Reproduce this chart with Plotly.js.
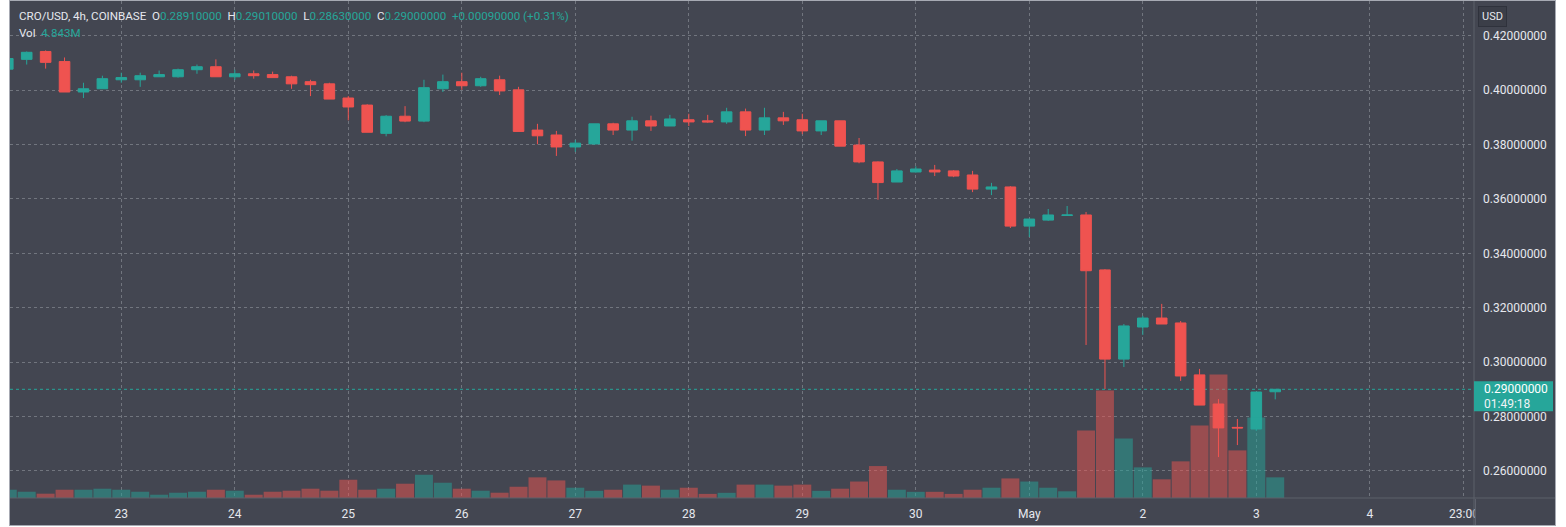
<!DOCTYPE html>
<html>
<head>
<meta charset="utf-8">
<script src="https://cdn.plot.ly/plotly-3.0.1.min.js"></script>
<style>
  html, body { margin: 0; padding: 0; background: #ffffff; width: 1566px; height: 527px; overflow: hidden; }
  #frame { position: absolute; left: 9px; top: 0px; width: 1545px; height: 524px; border: 1px solid #a7aab3; background: #434651; overflow: hidden; }
  #chart { position: absolute; left: 0; top: 0; width: 1545px; height: 524px; }
  #clip { position: absolute; left: 1465px; top: 498px; width: 80px; height: 26px; background: #434651; border-left: 1px solid #5d606b; }
</style>
</head>
<body>
<div id="frame"><div id="chart"></div><div id="clip"></div></div>
<script>
// ---- data (4h candles, CRO/USD, Coinbase) ----
const time = [
  '2022-04-22 00:00','2022-04-22 04:00','2022-04-22 08:00','2022-04-22 12:00','2022-04-22 16:00','2022-04-22 20:00',
  '2022-04-23 00:00','2022-04-23 04:00','2022-04-23 08:00','2022-04-23 12:00','2022-04-23 16:00','2022-04-23 20:00',
  '2022-04-24 00:00','2022-04-24 04:00','2022-04-24 08:00','2022-04-24 12:00','2022-04-24 16:00','2022-04-24 20:00',
  '2022-04-25 00:00','2022-04-25 04:00','2022-04-25 08:00','2022-04-25 12:00','2022-04-25 16:00','2022-04-25 20:00',
  '2022-04-26 00:00','2022-04-26 04:00','2022-04-26 08:00','2022-04-26 12:00','2022-04-26 16:00','2022-04-26 20:00',
  '2022-04-27 00:00','2022-04-27 04:00','2022-04-27 08:00','2022-04-27 12:00','2022-04-27 16:00','2022-04-27 20:00',
  '2022-04-28 00:00','2022-04-28 04:00','2022-04-28 08:00','2022-04-28 12:00','2022-04-28 16:00','2022-04-28 20:00',
  '2022-04-29 00:00','2022-04-29 04:00','2022-04-29 08:00','2022-04-29 12:00','2022-04-29 16:00','2022-04-29 20:00',
  '2022-04-30 00:00','2022-04-30 04:00','2022-04-30 08:00','2022-04-30 12:00','2022-04-30 16:00','2022-04-30 20:00',
  '2022-05-01 00:00','2022-05-01 04:00','2022-05-01 08:00','2022-05-01 12:00','2022-05-01 16:00','2022-05-01 20:00',
  '2022-05-02 00:00','2022-05-02 04:00','2022-05-02 08:00','2022-05-02 12:00','2022-05-02 16:00','2022-05-02 20:00',
  '2022-05-03 00:00','2022-05-03 04:00'
];
const open = [
  0.4077,0.4113,0.4142,0.4105,0.3993,0.4005, 0.4038,0.4038,0.4049,0.4049,0.4075,0.4086,
  0.4049,0.4060,0.4057,0.4049,0.4031,0.4023, 0.3971,0.3945,0.3841,0.3904,0.3886,0.4005,
  0.4031,0.4016,0.4038,0.4001,0.3853,0.3835, 0.3791,0.3802,0.3876,0.3853,0.3887,0.3868,
  0.3891,0.3887,0.3883,0.3920,0.3853,0.3898, 0.3891,0.3850,0.3887,0.3798,0.3736,0.3662,
  0.3699,0.3706,0.3703,0.3688,0.3636,0.3644, 0.3500,0.3522,0.3539,0.3541,0.3339,0.3011,
  0.3129,0.3162,0.3144,0.2953,0.2846,0.2760, 0.2754,0.2891
];
const high = [
  0.4125,0.4142,0.4146,0.4120,0.4027,0.4053, 0.4064,0.4064,0.4072,0.4079,0.4094,0.4113,
  0.4075,0.4072,0.4068,0.4053,0.4038,0.4027, 0.3978,0.3948,0.3908,0.3941,0.4038,0.4057,
  0.4064,0.4049,0.4053,0.4012,0.3876,0.3850, 0.3817,0.3876,0.3880,0.3902,0.3906,0.3909,
  0.3913,0.3909,0.3935,0.3932,0.3935,0.3920, 0.3913,0.3887,0.3887,0.3824,0.3738,0.3710,
  0.3720,0.3725,0.3706,0.3703,0.3659,0.3647, 0.3526,0.3563,0.3574,0.3552,0.3342,0.3140,
  0.3170,0.3214,0.3151,0.2975,0.2864,0.2791, 0.2890,0.2901
];
const low = [
  0.4065,0.4094,0.4079,0.3993,0.3971,0.4005, 0.4027,0.4012,0.4049,0.4046,0.4060,0.4049,
  0.4038,0.4042,0.4046,0.4005,0.3978,0.3967, 0.3889,0.3845,0.3830,0.3882,0.3882,0.3993,
  0.4001,0.4012,0.3982,0.3848,0.3801,0.3758, 0.3773,0.3799,0.3835,0.3814,0.3850,0.3868,
  0.3868,0.3880,0.3876,0.3831,0.3835,0.3872, 0.3838,0.3835,0.3794,0.3731,0.3597,0.3662,
  0.3697,0.3684,0.3680,0.3625,0.3614,0.3493, 0.3460,0.3519,0.3539,0.3063,0.2901,0.2982,
  0.3100,0.3140,0.2931,0.2842,0.2651,0.2695, 0.2747,0.2863
];
const close = [
  0.4116,0.4139,0.4102,0.3993,0.4005,0.4042, 0.4046,0.4053,0.4057,0.4075,0.4086,0.4049,
  0.4060,0.4053,0.4046,0.4023,0.4020,0.3967, 0.3938,0.3845,0.3904,0.3886,0.4009,0.4031,
  0.4016,0.4042,0.3997,0.3848,0.3832,0.3791, 0.3805,0.3876,0.3853,0.3887,0.3868,0.3894,
  0.3883,0.3883,0.3920,0.3853,0.3898,0.3887, 0.3850,0.3887,0.3794,0.3736,0.3660,0.3703,
  0.3710,0.3699,0.3684,0.3636,0.3644,0.3500, 0.3526,0.3541,0.3541,0.3336,0.3011,0.3133,
  0.3162,0.3140,0.2949,0.2842,0.2758,0.2758, 0.2890,0.2900
];
// volume in millions
const volume = [
  1.94,1.47,1.01,1.94,1.94,2.18, 1.94,1.47,0.77,1.24,1.47,1.94,
  1.71,0.77,1.47,1.71,2.18,1.71, 4.28,1.94,2.18,3.35,5.45,3.58,
  2.18,1.71,1.24,2.64,4.84,4.12, 2.41,1.68,1.94,3.14,2.90,1.94,
  2.41,0.96,1.22,3.14,3.14,2.90, 3.14,1.68,2.18,3.86,7.49,1.94,
  1.45,1.45,0.96,1.94,2.41,4.59, 3.86,2.41,1.57,15.84,25.20,13.97,
  7.18,4.38,8.59,17.01,28.95,11.16, 18.88,4.843
];
const priceTicks = [0.26,0.28,0.30,0.32,0.34,0.36,0.38,0.40,0.42];
const dateTicks = ['2022-04-22','2022-04-23','2022-04-24','2022-04-25','2022-04-26','2022-04-27','2022-04-28',
                   '2022-04-29','2022-04-30','2022-05-01','2022-05-02','2022-05-03','2022-05-04','2022-05-04 19:55'];
const dateTickText = ['22','23','24','25','26','27','28','29','30','May','2','3','4','23:00'];
const symbolTitle = 'CRO/USD, 4h, COINBASE';
const countdown = '01:49:18';

// ---- styling ----
const UP = '#26a69a', DOWN = '#ef5350';
const UP_VOL = 'rgba(38,166,154,0.5)', DOWN_VOL = 'rgba(239,83,80,0.5)';
const TXT = '#e6e8ee';
const FONT = 'Roboto, "Noto Sans", "DejaVu Sans", sans-serif';

const n = close.length;
const last = n - 1;
const volColors = close.map((c, i) => c >= open[i] ? UP_VOL : DOWN_VOL);
const lastColor = close[last] >= open[last] ? UP : DOWN;
const chg = close[last] - open[last];
const pct = chg / open[last] * 100;
const fmt = v => v.toFixed(8);
const val = s => '<span style="color:' + lastColor + '">' + s + '</span>';
const sp = '\u00a0\u00a0';
const header = symbolTitle + sp + 'O' + val(fmt(open[last])) + sp + 'H' + val(fmt(high[last])) + sp +
  'L' + val(fmt(low[last])) + sp + 'C' + val(fmt(close[last])) + sp +
  val((chg >= 0 ? '+' : '') + fmt(chg) + ' (' + (pct >= 0 ? '+' : '') + pct.toFixed(2) + '%)');
const volText = 'Vol' + '\u00a0\u00a0' + val(volume[last].toFixed(3) + 'M');

const volTrace = {
  type: 'bar', x: time, y: volume, yaxis: 'y2', xaxis: 'x',
  marker: { color: volColors, line: { width: 0 } },
  hoverinfo: 'skip', showlegend: false
};
const candleTrace = {
  type: 'candlestick', x: time, open: open, high: high, low: low, close: close,
  xaxis: 'x', yaxis: 'y',
  increasing: { line: { color: UP, width: 1 }, fillcolor: UP },
  decreasing: { line: { color: DOWN, width: 1 }, fillcolor: DOWN },
  whiskerwidth: 0, hoverinfo: 'skip', showlegend: false
};

const W = 1545, H = 524, PW = 1464, PH = 497;
const yRange = [0.25004, 0.43276];
const pxToPrice = (yRange[1] - yRange[0]) / PH;
const layout = {
  width: W, height: H,
  margin: { l: 0, r: W - PW, t: 0, b: H - PH, pad: 0 },
  paper_bgcolor: '#434651', plot_bgcolor: '#434651',
  font: { family: FONT, color: TXT, size: 12 },
  showlegend: false,
  bargap: 0.05, boxgap: 0.2,
  xaxis: {
    type: 'date', range: ['2022-04-22 00:28', '2022-05-04 22:02'],
    rangeslider: { visible: false },
    tickmode: 'array', tickvals: dateTicks, ticktext: dateTickText,
    showgrid: true, gridcolor: 'rgba(160,163,172,0.5)', griddash: 'dot', gridwidth: 1,
    zeroline: false, showline: false, ticks: '', ticklabelstandoff: 7,
    tickfont: { family: FONT, size: 12, color: TXT }, fixedrange: true
  },
  yaxis: {
    side: 'right', range: yRange,
    tickmode: 'array', tickvals: priceTicks, ticktext: priceTicks.map(fmt),
    showgrid: true, gridcolor: 'rgba(160,163,172,0.5)', griddash: 'dot', gridwidth: 1,
    zeroline: false, showline: false, ticks: '', ticklabelstandoff: 8,
    tickfont: { family: FONT, size: 12, color: TXT }, fixedrange: true
  },
  yaxis2: {
    overlaying: 'y', side: 'left', range: [0, 116.5], visible: false, fixedrange: true
  },
  shapes: [
    { type: 'line', xref: 'paper', yref: 'y', x0: 0, x1: 1, y0: close[last], y1: close[last],
      line: { color: lastColor, width: 1, dash: 'dot' }, layer: 'below' },
    { type: 'line', xref: 'paper', yref: 'paper', x0: 1, x1: 1, y0: -(H - PH) / PH, y1: 1.01,
      line: { color: '#5d606b', width: 1 } },
    { type: 'line', xref: 'paper', yref: 'paper', x0: 0, x1: W / PW, y0: 0, y1: 0,
      line: { color: '#5d606b', width: 1 } },
    // last price tag background
    { type: 'rect', xref: 'paper', yref: 'y', x0: 1, x1: 1 + 79 / PW,
      y0: close[last] - 22 * pxToPrice, y1: close[last] + 8 * pxToPrice,
      fillcolor: lastColor, line: { width: 0 }, layer: 'above' }
  ],
  annotations: [
    { xref: 'paper', yref: 'paper', x: 7 / PW, y: (PH - 15) / PH, xanchor: 'left', yanchor: 'middle',
      text: header, showarrow: false, align: 'left', font: { family: FONT, size: 11.6, color: TXT } },
    { xref: 'paper', yref: 'paper', x: 7 / PW, y: (PH - 32) / PH, xanchor: 'left', yanchor: 'middle',
      text: volText, showarrow: false, align: 'left', font: { family: FONT, size: 11.6, color: TXT } },
    { xref: 'paper', yref: 'y', x: 1, y: close[last], xanchor: 'left', yanchor: 'middle', xshift: 8,
      text: fmt(close[last]), showarrow: false, font: { family: FONT, size: 12, color: '#ffffff' } },
    { xref: 'paper', yref: 'y', x: 1, y: close[last], xanchor: 'left', yanchor: 'middle', xshift: 8, yshift: -15,
      text: countdown, showarrow: false, font: { family: FONT, size: 12, color: '#f0f3f6' } },
    { xref: 'paper', yref: 'paper', x: 1, y: (PH - 16) / PH, xanchor: 'left', yanchor: 'middle',
      xshift: 4, text: 'USD', showarrow: false, bgcolor: '#3b3e48', bordercolor: '#2f323c', borderwidth: 1,
      borderpad: 3, font: { family: FONT, size: 11, color: TXT } }
  ]
};

Plotly.newPlot('chart', [volTrace, candleTrace], layout, { staticPlot: true, displayModeBar: false });
</script>
</body>
</html>
